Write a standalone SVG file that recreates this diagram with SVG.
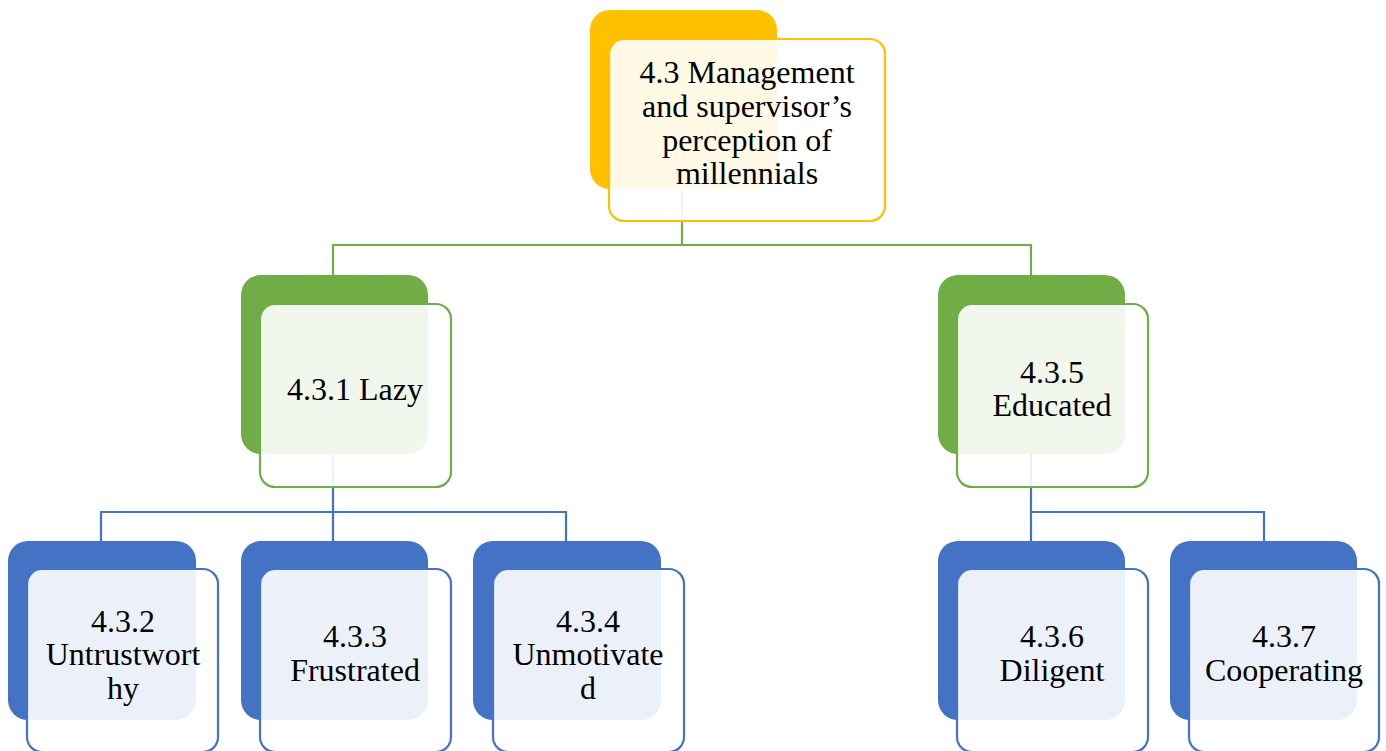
<svg xmlns="http://www.w3.org/2000/svg" width="1386" height="751" viewBox="0 0 1386 751">
  <style>
    .back { stroke: none; }
    .front { fill: #ffffff; fill-opacity: 0.9; stroke-width: 2.2; }
    .y .back { fill: #FFC000; } .y .front { stroke: #FFC000; }
    .g .back { fill: #70AD47; } .g .front { stroke: #70AD47; }
    .b .back { fill: #4472C4; } .b .front { stroke: #4472C4; }
    .lbl { font-family: "Liberation Serif", "Times New Roman", serif; font-size: 32px; fill: #000; text-anchor: middle; }
    .conn { fill: none; stroke-width: 2.2; }
    .cg { stroke: #70AD47; } .cb { stroke: #4472C4; }
  </style>
  <rect width="1386" height="751" fill="#ffffff"/>

  <!-- connectors -->
  <g id="connectors">
    <path class="conn cg" d="M682 189 V245 M333 276 V245 H1031 V276"/>
    <path class="conn cb" d="M333 454 V512 M101 541 V512 H566 V541 M333 512 V541"/>
    <path class="conn cb" d="M1031 454 V512 H1264 V541 M1031 512 V541"/>
  </g>

  <g id="n43" class="y">
    <rect class="back" x="590" y="10" width="187" height="179" rx="20"/>
    <rect class="front" x="609" y="39" width="276" height="182" rx="15"/>
    <text class="lbl"><tspan x="747" y="83">4.3 Management</tspan><tspan x="747" y="117">and supervisor’s</tspan><tspan x="747" y="151">perception of</tspan><tspan x="747" y="184">millennials</tspan></text>
  </g>

  <g id="n431" class="g">
    <rect class="back" x="241" y="275" width="187" height="179" rx="20"/>
    <rect class="front" x="260" y="304" width="191" height="183" rx="15"/>
    <text class="lbl" x="355" y="400">4.3.1 Lazy</text>
  </g>

  <g id="n435" class="g">
    <rect class="back" x="938" y="275" width="187" height="179" rx="20"/>
    <rect class="front" x="957" y="304" width="191" height="183" rx="15"/>
    <text class="lbl"><tspan x="1052" y="383">4.3.5</tspan><tspan x="1052" y="416">Educated</tspan></text>
  </g>

  <g id="n432" class="b">
    <rect class="back" x="8" y="541" width="188" height="179" rx="20"/>
    <rect class="front" x="27" y="569" width="191" height="183" rx="15"/>
    <text class="lbl"><tspan x="123" y="632">4.3.2</tspan><tspan x="123" y="665">Untrustwort</tspan><tspan x="123" y="699">hy</tspan></text>
  </g>

  <g id="n433" class="b">
    <rect class="back" x="241" y="541" width="187" height="179" rx="20"/>
    <rect class="front" x="260" y="569" width="191" height="183" rx="15"/>
    <text class="lbl"><tspan x="355" y="647">4.3.3</tspan><tspan x="355" y="681">Frustrated</tspan></text>
  </g>

  <g id="n434" class="b">
    <rect class="back" x="473" y="541" width="188" height="179" rx="20"/>
    <rect class="front" x="493" y="569" width="191" height="183" rx="15"/>
    <text class="lbl"><tspan x="588" y="632">4.3.4</tspan><tspan x="588" y="665">Unmotivate</tspan><tspan x="588" y="699">d</tspan></text>
  </g>

  <g id="n436" class="b">
    <rect class="back" x="938" y="541" width="187" height="179" rx="20"/>
    <rect class="front" x="957" y="569" width="191" height="183" rx="15"/>
    <text class="lbl"><tspan x="1052" y="647">4.3.6</tspan><tspan x="1052" y="681">Diligent</tspan></text>
  </g>

  <g id="n437" class="b">
    <rect class="back" x="1170" y="541" width="187" height="179" rx="20"/>
    <rect class="front" x="1189" y="569" width="190" height="183" rx="15"/>
    <text class="lbl"><tspan x="1284" y="647">4.3.7</tspan><tspan x="1284" y="681">Cooperating</tspan></text>
  </g>
</svg>
